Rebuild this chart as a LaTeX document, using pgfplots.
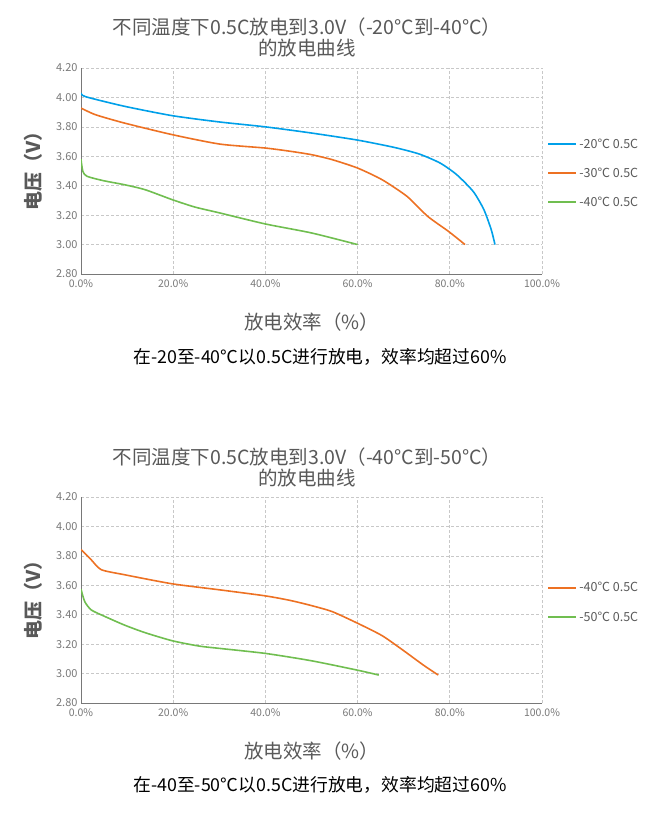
\documentclass[border=0pt]{standalone}
\usepackage{fontspec}
\usepackage{pgfplots}
\pgfplotsset{compat=1.18}
\setmainfont{Noto Sans CJK SC}

\definecolor{cblue}{RGB}{0,160,233}
\definecolor{corange}{RGB}{237,113,35}
\definecolor{cgreen}{RGB}{112,190,80}
\definecolor{txtgray}{RGB}{89,89,89}
\definecolor{gridgray}{RGB}{200,200,200}
\definecolor{axgray}{RGB}{120,120,120}

\pgfplotsset{
  battery/.style={
    scale only axis, width=461bp, height=206bp,
    anchor=south west,
    xmin=0, xmax=100, ymin=2.8, ymax=4.2,
    xtick={0,20,40,60,80,100},
    xticklabels={0.0\%,20.0\%,40.0\%,60.0\%,80.0\%,100.0\%},
    ytick={2.8,3.0,3.2,3.4,3.6,3.8,4.0,4.2},
    /pgf/number format/assume math mode=true,
    xticklabel style={font=\fontsize{10.5bp}{10.5bp}\selectfont, text=axgray, yshift=-2bp},
    yticklabel style={font=\fontsize{11bp}{11bp}\selectfont, text=axgray,
      /pgf/number format/.cd, fixed, fixed zerofill, precision=2},
    major tick length=0pt,
    axis x line*=bottom, axis y line*=left,
    axis line style={-, axgray, line width=0.9bp},
    grid=major,
    grid style={gridgray, line width=0.7bp, dash pattern=on 3bp off 2bp},
    xlabel={放电效率（\%）},
    ylabel={电压（V）},
    xlabel style={at={(axis description cs:0.5,0)}, anchor=center, yshift=-48bp,
      font=\fontsize{19.5bp}{19.5bp}\selectfont, text=txtgray},
    ylabel style={at={(axis description cs:0,0.52)}, anchor=center, yshift=48bp,
      font=\fontsize{19bp}{19bp}\selectfont\bfseries, text=txtgray},
    legend style={draw=none, fill=none, at={(1,0.49)}, anchor=west, xshift=2bp,
      font=\fontsize{12.5bp}{12.5bp}\selectfont, text=txtgray, row sep=14bp},
    legend cell align=left,
    legend image code/.code={\draw[#1, line width=2.2bp] (0bp,0bp) -- (28bp,0bp);},
    every axis plot/.append style={line width=1.6bp, no markers, smooth, tension=0.4},
  }
}

\pgfplotstableread{
x y
0 4.03
1 4.005
9.4 3.94
19.8 3.876
30.1 3.833
40 3.80
50 3.758
60 3.71
68 3.66
73.4 3.615
77.9 3.554
81.5 3.475
85.1 3.36
87.4 3.237
89 3.10
89.8 3.00
}\tMinusTwenty

\pgfplotstableread{
x y
0 3.928
3.1 3.883
9.4 3.826
19.8 3.747
30.1 3.683
40 3.656
45.4 3.634
50 3.611
54.5 3.577
60 3.52
65.3 3.441
70.7 3.328
75.2 3.192
79.7 3.09
83.3 3.00
}\tMinusThirty

\pgfplotstableread{
x y
0 3.58
0.4 3.498
1.3 3.464
4.9 3.434
9.4 3.407
13.9 3.373
19.8 3.305
24.7 3.255
30.1 3.215
40 3.14
50 3.079
60 3.00
}\tMinusForty

\pgfplotstableread{
x y
0 3.843
2.2 3.774
4.4 3.706
9.4 3.672
19.8 3.61
30.1 3.569
40 3.528
45.4 3.497
50 3.462
54.5 3.421
60 3.342
65.3 3.258
69.8 3.16
74.3 3.057
77.5 2.99
}\tBMinusForty

\pgfplotstableread{
x y
0 3.574
0.8 3.49
2.2 3.433
4.9 3.392
9.4 3.33
13.9 3.278
19.8 3.223
25.6 3.187
30.1 3.171
40 3.137
50 3.087
60 3.023
64.6 2.99
}\tBMinusFifty

\begin{document}
\begin{tikzpicture}
\path[use as bounding box] (0,0) rectangle (650bp,-840bp);

% chart 1
\node[align=center, text=txtgray, font=\fontsize{19.5bp}{21bp}\selectfont]
  at (307bp,-37.5bp) {不同温度下0.5C放电到3.0V（-20°C到-40°C）\\的放电曲线};
\begin{axis}[battery, at={(81bp,-274bp)}]
  \addplot[cblue] table {\tMinusTwenty};
  \addlegendentry{-20℃ 0.5C}
  \addplot[corange] table {\tMinusThirty};
  \addlegendentry{-30℃ 0.5C}
  \addplot[cgreen] table {\tMinusForty};
  \addlegendentry{-40℃ 0.5C}
\end{axis}
\node[font=\fontsize{17.8bp}{17.8bp}\selectfont] at (320bp,-357bp)
  {在-20至-40℃以0.5C进行放电，效率均超过60\%};

% chart 2
\node[align=center, text=txtgray, font=\fontsize{19.5bp}{21bp}\selectfont]
  at (307bp,-467bp) {不同温度下0.5C放电到3.0V（-40°C到-50°C）\\的放电曲线};
\begin{axis}[battery, at={(81bp,-703bp)}, legend style={at={(1,0.488)}}]
  \addplot[corange] table {\tBMinusForty};
  \addlegendentry{-40℃ 0.5C}
  \addplot[cgreen] table {\tBMinusFifty};
  \addlegendentry{-50℃ 0.5C}
\end{axis}
\node[font=\fontsize{17.8bp}{17.8bp}\selectfont] at (320bp,-785bp)
  {在-40至-50℃以0.5C进行放电，效率均超过60\%};
\end{tikzpicture}
\end{document}
